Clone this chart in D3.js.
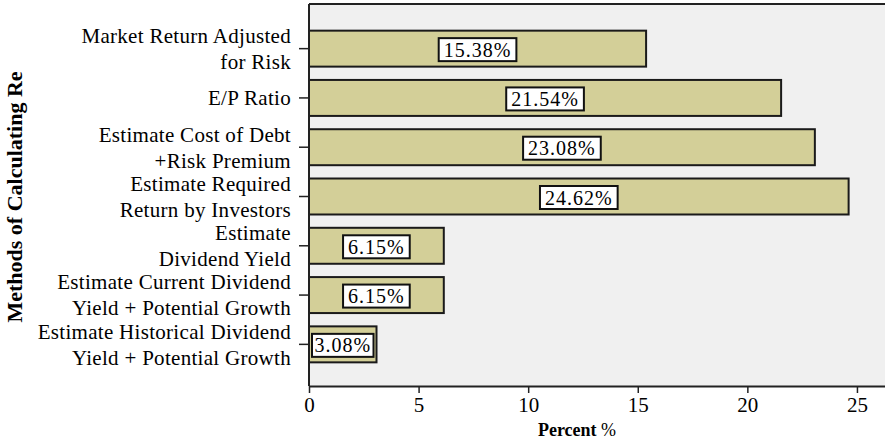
<!DOCTYPE html>
<html>
<head>
<meta charset="utf-8">
<script src="https://cdn.jsdelivr.net/npm/d3@7"></script>
<style>
  body { margin: 0; background: #fff; }
  svg text { font-family: "Liberation Serif", "DejaVu Serif", serif; fill: #000; }
</style>
</head>
<body>
<svg id="chart"></svg>
<script>
// 数据
const categories = [
  ['Market Return Adjusted', 'for Risk'],
  ['E/P Ratio'],
  ['Estimate Cost of Debt', '+Risk Premium'],
  ['Estimate Required', 'Return by Investors'],
  ['Estimate', 'Dividend Yield'],
  ['Estimate Current Dividend', 'Yield + Potential Growth'],
  ['Estimate Historical Dividend', 'Yield + Potential Growth']
];
const values = [15.38, 21.54, 23.08, 24.62, 6.15, 6.15, 3.08];
const valueLabels = ['15.38%', '21.54%', '23.08%', '24.62%', '6.15%', '6.15%', '3.08%'];
const xTicks = [0, 5, 10, 15, 20, 25];

const width = 885, height = 443;
const plot = { left: 309, right: 885, top: 4, bottom: 386 };

const svg = d3.select('#chart')
  .attr('width', width)
  .attr('height', height);

const x = d3.scaleLinear()
  .domain([0, 26.28])
  .range([plot.left, plot.right]);

const y = d3.scaleBand()
  .domain(d3.range(categories.length))
  .range([24, 369])
  .paddingInner(0.27)
  .paddingOuter(0.135);

// 背景
svg.append('rect')
  .attr('x', plot.left)
  .attr('y', plot.top)
  .attr('width', plot.right - plot.left)
  .attr('height', plot.bottom - plot.top)
  .attr('fill', '#f0f0f0');

svg.append('line')
  .attr('x1', plot.left).attr('x2', plot.right)
  .attr('y1', plot.top).attr('y2', plot.top)
  .attr('stroke', '#222').attr('stroke-width', 2);

// 条形
svg.selectAll('rect.bar')
  .data(values)
  .enter()
  .append('rect')
  .attr('class', 'bar')
  .attr('x', x(0))
  .attr('y', (d, i) => y(i))
  .attr('width', d => x(d) - x(0))
  .attr('height', y.bandwidth())
  .attr('fill', '#d3cf98')
  .attr('stroke', '#1a1a1a')
  .attr('stroke-width', 2);

// 数值标签
const labels = svg.selectAll('g.lbl')
  .data(values)
  .enter()
  .append('g')
  .attr('class', 'lbl');

labels.each(function(d, i) {
  const g = d3.select(this);
  const cx = (x(0) + x(d)) / 2;
  const cy = y(i) + y.bandwidth() / 2 + 1;
  const box = g.append('rect');
  const t = g.append('text')
    .attr('x', cx)
    .attr('y', cy)
    .attr('dy', '0.35em')
    .attr('text-anchor', 'middle')
    .attr('font-size', '20px')
    .attr('letter-spacing', '1px')
    .text(valueLabels[i]);
  const w = Math.min(t.node().getComputedTextLength() + 10, x(d) - x(0) - 6);
  let bx = cx - w / 2;
  if (bx < x(0) + 2) bx = x(0) + 2;
  box.attr('x', bx)
    .attr('y', cy - 11.5)
    .attr('width', w)
    .attr('height', 23)
    .attr('fill', '#fff')
    .attr('stroke', '#111')
    .attr('stroke-width', 2);
});

// 坐标轴
const xAxis = d3.axisBottom(x)
  .tickValues(xTicks)
  .tickSize(7)
  .tickSizeOuter(0);
const gx = svg.append('g')
  .attr('transform', 'translate(0,' + plot.bottom + ')')
  .call(xAxis);
gx.select('.domain').attr('stroke', '#222').attr('stroke-width', 2);
gx.selectAll('.tick line').attr('stroke', '#222').attr('stroke-width', 1.5);
gx.selectAll('.tick text')
  .attr('font-family', '"Liberation Serif", serif')
  .attr('font-size', '21px')
  .attr('dy', '0.75em')
  .attr('fill', '#000');

const yAxis = d3.axisLeft(y)
  .tickSize(10)
  .tickSizeOuter(0)
  .tickFormat('');
const gy = svg.append('g')
  .attr('transform', 'translate(' + plot.left + ',0)')
  .call(yAxis);
gy.select('.domain')
  .attr('d', 'M0,' + plot.top + 'V' + plot.bottom)
  .attr('stroke', '#222').attr('stroke-width', 2);
gy.selectAll('.tick line').attr('stroke', '#222').attr('stroke-width', 1.5);

// 分类标签
const lineGap = 26;
categories.forEach(function(lines, i) {
  const cy = y(i) + y.bandwidth() / 2;
  const t = svg.append('text')
    .attr('text-anchor', 'end')
    .attr('font-size', '21px')
    .attr('letter-spacing', '0.3px');
  lines.forEach(function(line, j) {
    t.append('tspan')
      .attr('x', 291)
      .attr('y', cy + (j - (lines.length - 1) / 2) * lineGap)
      .attr('dy', '0.35em')
      .text(line);
  });
});

// 轴标题
svg.append('text')
  .attr('transform', 'translate(22,197) rotate(-90)')
  .attr('text-anchor', 'middle')
  .attr('font-size', '22px')
  .attr('font-weight', 'bold')
  .text('Methods of Calculating Re');

const xt = svg.append('text')
  .attr('x', 577)
  .attr('y', 436)
  .attr('text-anchor', 'middle')
  .attr('font-size', '18px');
xt.append('tspan').attr('font-weight', 'bold').text('Percent');
xt.append('tspan').text(' %');
</script>
</body>
</html>
